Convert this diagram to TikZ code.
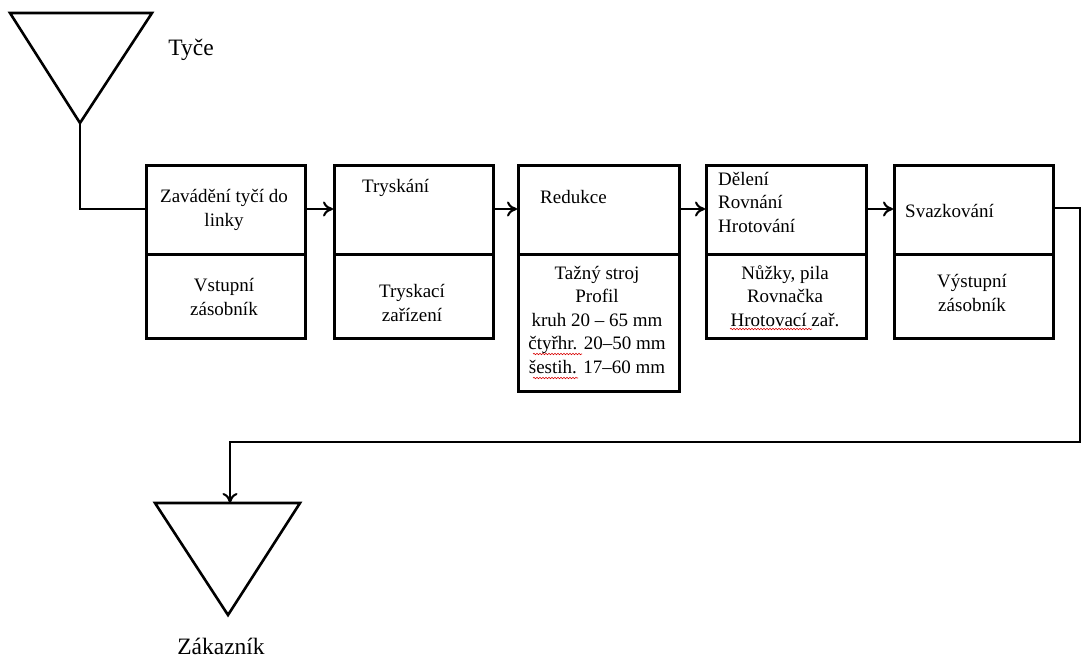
\documentclass[tikz,border=0pt]{standalone}
\usepackage{fontspec}
\setmainfont{Liberation Serif}
\usetikzlibrary{arrows.meta,decorations.pathmorphing}
\begin{document}
\begin{tikzpicture}[x=1pt,y=-1pt,
  part/.style={draw=black,line width=2.6pt,inner sep=0pt,anchor=north west},
  tri/.style={draw=black,line width=2.6pt,line join=miter},
  lbl/.style={inner sep=0pt,font=\fontsize{19pt}{23.5pt}\selectfont,align=center},
  lbll/.style={inner sep=0pt,font=\fontsize{19pt}{23.5pt}\selectfont,align=left},
  biglbl/.style={inner sep=0pt,font=\fontsize{23.5pt}{28pt}\selectfont},
  flow/.style={draw=black,line width=1.8pt,-{To[length=10pt,width=15pt,line width=2pt]}},
  line/.style={draw=black,line width=1.8pt},
  spell/.style={draw=red!85!black,line width=0.6pt,decorate,decoration={snake,amplitude=0.7pt,segment length=3pt}}]
\useasboundingbox (0,0) rectangle (1081,657);
\fill[white] (0,0) rectangle (1081,657);

% source triangle
\coordinate (t1a) at (10,13);
\coordinate (t1b) at (152,13);
\coordinate (t1c) at (80,123);
\draw[tri] (t1a) -- (t1b) -- (t1c) -- cycle;
\node[biglbl] (tyce) at (191,50) {Tyče};

% boxes
\node[part,minimum width=159pt,minimum height=89pt] (b1t) at (145,164) {};
\node[part,minimum width=159pt,minimum height=84pt] (b1b) at (145,253) {};
\node[part,minimum width=159pt,minimum height=89pt] (b2t) at (333,164) {};
\node[part,minimum width=159pt,minimum height=84pt] (b2b) at (333,253) {};
\node[part,minimum width=161pt,minimum height=89pt] (b3t) at (517,164) {};
\node[part,minimum width=161pt,minimum height=137pt] (b3b) at (517,253) {};
\node[part,minimum width=160pt,minimum height=89pt] (b4t) at (705,164) {};
\node[part,minimum width=160pt,minimum height=84pt] (b4b) at (705,253) {};
\node[part,minimum width=159pt,minimum height=89pt] (b5t) at (893,164) {};
\node[part,minimum width=159pt,minimum height=84pt] (b5b) at (893,253) {};

% texts
\node[lbl] (x1t) at (224,210) {Zavádění tyčí do\\linky};
\node[lbl] (x1b) at (224,297) {Vstupní\\zásobník};
\node[lbl,anchor=west] (x2t) at (362,188) {Tryskání};
\node[lbl] (x2b) at (412,303) {Tryskací\\zařízení};
\node[lbl,anchor=west] (x3t) at (540,197) {Redukce};
\node[lbl] (x3b) at (597,320) {Tažný stroj\\Profil\\kruh 20 -- 65 mm\\čtyřhr. 20--50 mm\\šestih. 17--60 mm};
\node[lbll,anchor=west] (x4t) at (718,202) {Dělení\\Rovnání\\Hrotování};
\node[lbl] (x4b) at (785,296) {Nůžky, pila\\Rovnačka\\Hrotovací zař.};
\node[lbl,anchor=west] (x5t) at (905,211) {Svazkování};
\node[lbl] (x5b) at (972,293) {Výstupní\\zásobník};

% spell-check marks
\draw[spell] (533,354) -- (582,354);
\draw[spell] (533,378) -- (578,378);
\draw[spell] (730,329) -- (812,329);

% sink triangle
\coordinate (t2a) at (155,503);
\coordinate (t2b) at (300,503);
\coordinate (t2c) at (228,615);
\coordinate (t2top) at (230,503);
\draw[tri] (t2a) -- (t2b) -- (t2c) -- cycle;
\node[biglbl] (zak) at (221,646) {Zákazník};

% connectors
\draw[line] (t1c) |- (b1t.west |- 0,209);
\draw[flow] (b1t.east |- 0,209) -- (b2t.west |- 0,209);
\draw[flow] (b2t.east |- 0,209) -- (b3t.west |- 0,209);
\draw[flow] (b3t.east |- 0,209) -- (b4t.west |- 0,209);
\draw[flow] (b4t.east |- 0,209) -- (b5t.west |- 0,209);
\coordinate (r1) at (1080,208);
\coordinate (r2) at (1080,442);
\coordinate (r3) at (230,442);
\draw[flow] (b5t.east |- 0,208) -- (r1) -- (r2) -- (r3) -- (t2top);
\end{tikzpicture}
\end{document}
